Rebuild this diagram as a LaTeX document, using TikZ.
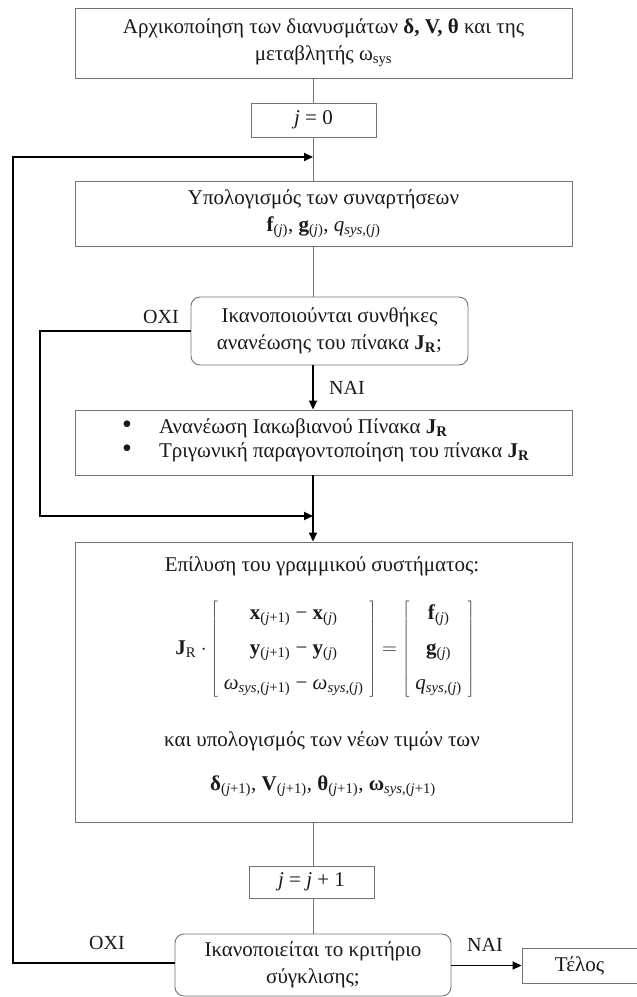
\documentclass[tikz,border=0pt]{standalone}
\usepackage{fontspec}
\setmainfont{Liberation Serif}
\usetikzlibrary{arrows.meta}
\newcommand{\sub}[1]{\textsubscript{#1}}
\newcommand{\jj}{(\textit{j})}
\newcommand{\jp}{(\textit{j}+1)}
\newcommand{\bul}{{\fontsize{28}{24}\selectfont •}}
\begin{document}
\begin{tikzpicture}[x=1pt,y=-1pt,
  txt/.style={font=\fontsize{21}{27}\selectfont, text=black!90, align=center},
  box/.style={txt, draw=black!55, line width=0.9pt, inner sep=0pt},
  rbox/.style={box, rounded corners=9pt},
  thinline/.style={draw=black!55, line width=0.9pt},
  boldline/.style={draw=black, line width=1.8pt},
  arr/.style={boldline, -{Triangle[length=9pt,width=8pt]}},
  lbl/.style={txt, font=\fontsize{20}{24}\selectfont}]
\useasboundingbox (0,0) rectangle (637,997);

% process boxes
\node[box, minimum width=497pt, minimum height=70pt] (init) at (323.5,43)
  {Αρχικοποίηση των διανυσμάτων \textbf{δ, V, θ} και της\\ μεταβλητής ω\sub{sys}};
\node[box, minimum width=125pt, minimum height=34pt] (j0) at (313.5,120) {\textit{j} = 0};
\node[box, minimum width=497pt, minimum height=65pt] (calc) at (323.5,213.5)
  {Υπολογισμός των συναρτήσεων\\ \textbf{f}\sub{\jj}, \textbf{g}\sub{\jj}, \textit{q}\sub{\textit{sys},\jj}};
\node[rbox, minimum width=277pt, minimum height=68pt] (dec1) at (329.5,331)
  {Ικανοποιούνται συνθήκες\\ ανανέωσης του πίνακα \textbf{J}\sub{\textbf{R}};};
\node[box, minimum width=497pt, minimum height=65pt] (upd) at (323.5,442.5) {};
\node[txt, anchor=west, inner sep=0pt] (updtext) at (122,441)
  {\fontsize{21}{24}\selectfont
   \begin{tabular}{@{}l@{\hspace{27pt}}l@{}}
   \bul & Ανανέωση Ιακωβιανού Πίνακα \textbf{J}\sub{\textbf{R}}\\
   \bul & Τριγωνική παραγοντοποίηση του πίνακα \textbf{J}\sub{\textbf{R}}
   \end{tabular}};
\node[box, minimum width=497pt, minimum height=280pt] (solve) at (323.5,682) {};
\node[txt] (s1) at (322,566) {Επίλυση του γραμμικού συστήματος:};
\node[txt] (s2) at (325,649)
  {$\textbf{J}_{\mathrm{R}}\cdot
   \left[\begin{tabular}{c}
   \textbf{x}\sub{\jp} − \textbf{x}\sub{\jj}\\[8pt]
   \textbf{y}\sub{\jp} − \textbf{y}\sub{\jj}\\[8pt]
   \textit{ω}\sub{\textit{sys},\jp} − \textit{ω}\sub{\textit{sys},\jj}
   \end{tabular}\right]
   =
   \left[\begin{tabular}{c}
   \textbf{f}\sub{\jj}\\[8pt]
   \textbf{g}\sub{\jj}\\[8pt]
   \textit{q}\sub{\textit{sys},\jj}
   \end{tabular}\right]$};
\node[txt] (s3) at (322,741) {και υπολογισμός των νέων τιμών των};
\node[txt] (s4) at (323,786)
  {\textbf{δ}\sub{\jp}, \textbf{V}\sub{\jp}, \textbf{θ}\sub{\jp}, \textbf{ω}\sub{\textit{sys},\jp}};
\node[box, minimum width=125pt, minimum height=32pt] (jinc) at (311.5,882) {\textit{j} = \textit{j} + 1};
\node[rbox, minimum width=276pt, minimum height=62pt] (dec2) at (313,965)
  {\fontsize{21}{25}\selectfont Ικανοποιείται το κριτήριο\\ σύγκλισης;};
\node[box, minimum width=115pt, minimum height=35pt] (end) at (579.5,965.5) {Τέλος};

% branch labels
\node[lbl] (no1) at (161,317) {ΟΧΙ};
\node[lbl] (yes1) at (347,388) {ΝΑΙ};
\node[lbl] (no2) at (107,943) {ΟΧΙ};
\node[lbl] (yes2) at (485,945) {ΝΑΙ};

% routing points
\coordinate (loopin) at (313,157);
\coordinate (merge) at (313,516);
\coordinate (bl) at (40,331);
\coordinate (ll) at (13,963);

% thin straight connectors
\draw[thinline] (init.south -| loopin) -- (j0.north -| loopin);
\draw[thinline] (j0.south -| loopin) -- (calc.north -| loopin);
\draw[thinline] (calc.south -| loopin) -- (dec1.north -| loopin);
\draw[thinline] (solve.south -| loopin) -- (jinc.north -| loopin);
\draw[thinline] (jinc.south -| loopin) -- (dec2.north -| loopin);

% bold arrows
\draw[arr] (dec1.south -| loopin) -- (upd.north -| loopin);
\draw[arr] (upd.south -| loopin) -- (solve.north -| loopin);
\draw[arr] (dec1.west) -- (bl) |- (merge);
\draw[arr] (dec2.west |- ll) -- (ll) |- (loopin);
\draw[arr] (dec2.east |- end.west) -- (end.west);
\end{tikzpicture}
\end{document}
